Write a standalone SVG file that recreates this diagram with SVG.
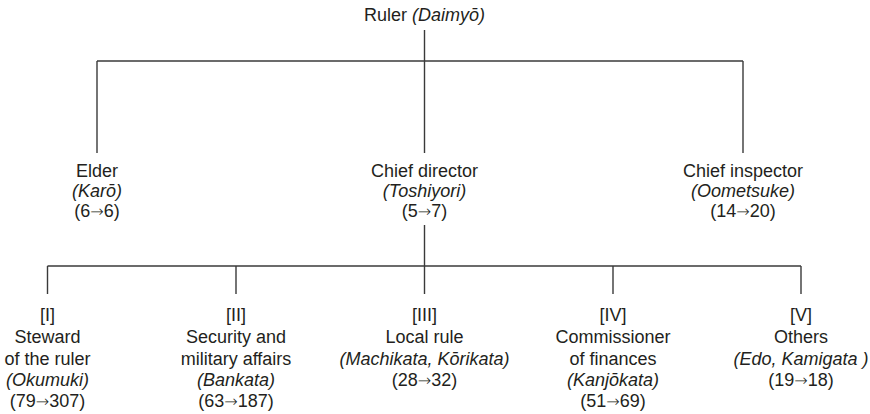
<svg xmlns="http://www.w3.org/2000/svg" width="870" height="414" viewBox="0 0 870 414">
<style>
text{font-family:"Liberation Sans",Arial,Helvetica,sans-serif;font-size:18px;fill:#231f20;text-anchor:middle}
.i{font-style:italic}
.a{font-family:"DejaVu Sans",sans-serif;font-size:16px;font-weight:200}
.c line{stroke:#3a3a3a;stroke-width:1.4;fill:none}
</style>
<rect width="870" height="414" fill="#fff"/>
<g class="c" id="connectors">
<line x1="424.5" y1="30" x2="424.5" y2="61"/>
<line x1="97" y1="61" x2="743" y2="61"/>
<line x1="97" y1="61" x2="97" y2="153"/>
<line x1="424.5" y1="61" x2="424.5" y2="153"/>
<line x1="743" y1="61" x2="743" y2="153"/>
<line x1="424.5" y1="225" x2="424.5" y2="294"/>
<line x1="47.5" y1="266" x2="801" y2="266"/>
<line x1="47.5" y1="266" x2="47.5" y2="294"/>
<line x1="236" y1="266" x2="236" y2="294"/>
<line x1="613" y1="266" x2="613" y2="294"/>
<line x1="801" y1="266" x2="801" y2="294"/>
</g>
<g id="ruler"><text x="424.5" y="21">Ruler <tspan class="i">(Daimyō)</tspan></text></g>
<g id="elder">
<text x="97" y="177">Elder</text>
<text x="97" y="197" class="i">(Karō)</text>
<text x="97" y="217">(6<tspan class="a">→</tspan>6)</text>
</g>
<g id="chief-director">
<text x="424.5" y="177">Chief director</text>
<text x="424.5" y="197" class="i">(Toshiyori)</text>
<text x="424.5" y="217">(5<tspan class="a">→</tspan>7)</text>
</g>
<g id="chief-inspector">
<text x="743" y="177">Chief inspector</text>
<text x="743" y="197" class="i">(Oometsuke)</text>
<text x="743" y="217">(14<tspan class="a">→</tspan>20)</text>
</g>
<g id="steward">
<text x="47.5" y="321">[I]</text>
<text x="47.5" y="343">Steward</text>
<text x="47.5" y="365">of the ruler</text>
<text x="47.5" y="386" class="i">(Okumuki)</text>
<text x="47.5" y="407">(79<tspan class="a">→</tspan>307)</text>
</g>
<g id="security">
<text x="236" y="321">[II]</text>
<text x="236" y="343">Security and</text>
<text x="236" y="365">military affairs</text>
<text x="236" y="386" class="i">(Bankata)</text>
<text x="236" y="407">(63<tspan class="a">→</tspan>187)</text>
</g>
<g id="local-rule">
<text x="424.5" y="321">[III]</text>
<text x="424.5" y="343">Local rule</text>
<text x="424.5" y="365" class="i">(Machikata, Kōrikata)</text>
<text x="424.5" y="386">(28<tspan class="a">→</tspan>32)</text>
</g>
<g id="finances">
<text x="613" y="321">[IV]</text>
<text x="613" y="343">Commissioner</text>
<text x="613" y="365">of finances</text>
<text x="613" y="386" class="i">(Kanjōkata)</text>
<text x="613" y="407">(51<tspan class="a">→</tspan>69)</text>
</g>
<g id="others">
<text x="801" y="321">[V]</text>
<text x="801" y="343">Others</text>
<text x="801" y="365" class="i">(Edo, Kamigata )</text>
<text x="801" y="386">(19<tspan class="a">→</tspan>18)</text>
</g>
</svg>
